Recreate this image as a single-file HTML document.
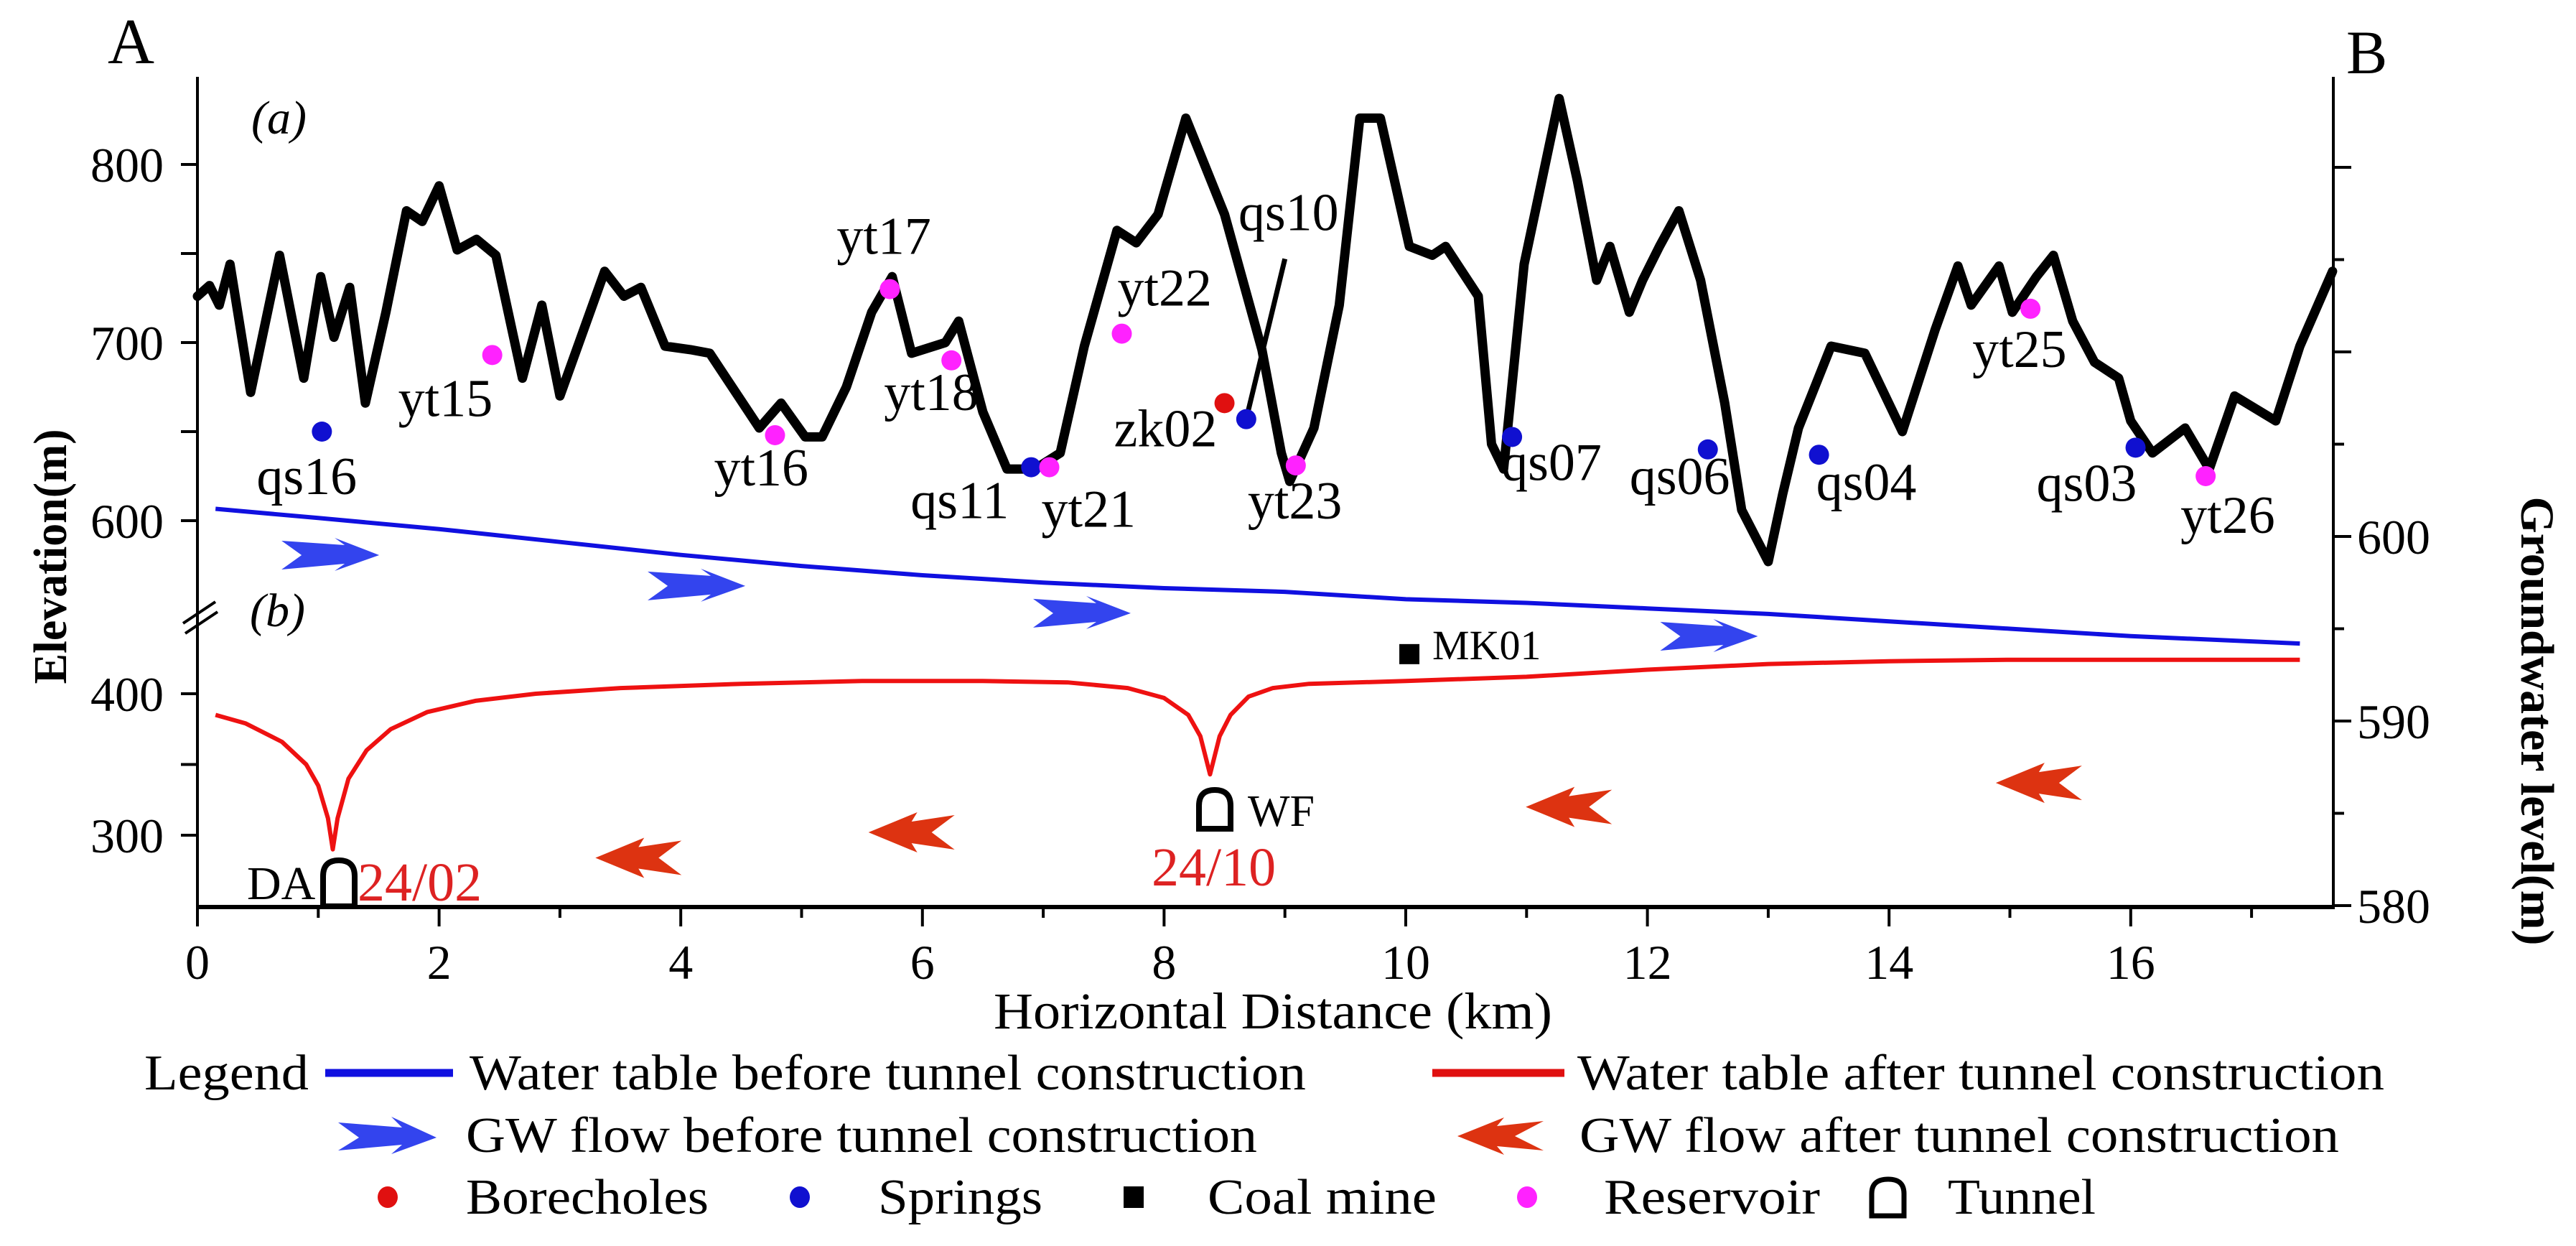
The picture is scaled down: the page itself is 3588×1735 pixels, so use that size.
<!DOCTYPE html>
<html><head><meta charset="utf-8">
<style>
html,body{margin:0;padding:0;background:#fff;}
svg{display:block;font-family:"Liberation Serif",serif;}
</style></head>
<body>
<svg id="chart" width="3588" height="1735" viewBox="0 0 3588 1735" xmlns="http://www.w3.org/2000/svg">
<rect x="0" y="0" width="3588" height="1735" fill="#fff"/>
<g id="axes"></g><g id="series"></g><g id="annot"></g>
<g id="legend">
  <text x="201" y="1517" font-size="70" textLength="229" lengthAdjust="spacingAndGlyphs">Legend</text>
  <line x1="453" y1="1494" x2="631" y2="1494" stroke="#1010e0" stroke-width="11"/>
  <text x="654" y="1517" font-size="70" textLength="1165" lengthAdjust="spacingAndGlyphs">Water table before tunnel construction</text>
  <line x1="1995" y1="1494" x2="2179" y2="1494" stroke="#e01010" stroke-width="11"/>
  <text x="2197" y="1517" font-size="70" textLength="1124" lengthAdjust="spacingAndGlyphs">Water table after tunnel construction</text>
  <path d="M471,1563 L560,1570 L545,1555 L608,1584 L545,1607 L560,1594 L471,1602 L500,1584 Z" fill="#3344ee"/>
  <text x="649" y="1604" font-size="70" textLength="1102" lengthAdjust="spacingAndGlyphs">GW flow before tunnel construction</text>
  <path d="M2150,1561 L2110,1582 L2150,1602 L2085,1596 L2095,1608 L2030,1582 L2095,1556 L2085,1568 Z" fill="#dd3311"/>
  <text x="2200" y="1604" font-size="70" textLength="1058" lengthAdjust="spacingAndGlyphs">GW flow after tunnel construction</text>
  <ellipse cx="540" cy="1667" rx="14" ry="15" fill="#e01010"/>
  <text x="649" y="1690" font-size="70" textLength="338" lengthAdjust="spacingAndGlyphs">Borecholes</text>
  <ellipse cx="1114" cy="1667" rx="14" ry="15" fill="#1010d0"/>
  <text x="1223" y="1690" font-size="70" textLength="229" lengthAdjust="spacingAndGlyphs">Springs</text>
  <rect x="1565" y="1652" width="28" height="30" fill="#000"/>
  <text x="1682" y="1690" font-size="70" textLength="319" lengthAdjust="spacingAndGlyphs">Coal mine</text>
  <ellipse cx="2127" cy="1667" rx="14" ry="15" fill="#ff22ff"/>
  <text x="2234" y="1690" font-size="70" textLength="301" lengthAdjust="spacingAndGlyphs">Reservoir</text>
  <path d="M2607,1693 L2607,1662 Q2607,1642 2630,1642 Q2652,1642 2652,1662 L2652,1693 Z" fill="none" stroke="#000" stroke-width="7"/>
  <text x="2713" y="1690" font-size="70" textLength="206" lengthAdjust="spacingAndGlyphs">Tunnel</text>
</g>
</svg>
<script>
// ---- data ----
const terrainKm = [0,0.1,0.18,0.27,0.44,0.68,0.88,1.02,1.13,1.26,1.39,1.56,1.73,1.86,2.0,2.15,2.31,2.47,2.69,2.85,3.0,3.37,3.53,3.67,3.87,4.08,4.24,4.65,4.83,5.03,5.17,5.37,5.58,5.75,5.91,6.19,6.3,6.5,6.7,6.93,7.14,7.34,7.61,7.77,7.95,8.18,8.5,8.81,8.97,9.04,9.24,9.45,9.62,9.79,10.03,10.22,10.33,10.6,10.71,10.81,10.98,11.27,11.42,11.58,11.69,11.85,11.96,12.1,12.26,12.44,12.64,12.78,13.0,13.12,13.25,13.52,13.8,14.11,14.38,14.57,14.68,14.91,15.02,15.22,15.36,15.52,15.7,15.9,16.0,16.18,16.45,16.65,16.86,17.2,17.4,17.67];
const terrainElev = [726,732,721,744,672,749,680,737,703,731,666,717,774,768,788,752,758,749,680,721,670,740,726,731,698,696,694,652,666,647,647,675,717,737,694,700,712,661,629,629,638,698,763,756,772,826,772,696,638,622,652,721,826,826,754,749,754,726,643,629,744,837,791,735,754,717,735,754,774,735,666,606,577,615,652,698,694,650,707,743,721,743,717,737,749,712,689,680,656,638,652,629,670,656,698,740];
const qs10LineKm = [8.68,9.0];
const qs10LineElev = [657,747];
const beforeKm = [0.15,1,2,3,4,5,6,7,8,9,10,11,12,13,14,15,16,17.4];
const beforeGw = [601.5,601.0,600.4,599.7,599.0,598.4,597.9,597.5,597.2,597.0,596.6,596.4,596.1,595.8,595.4,595.0,594.6,594.2];
const afterKm = [0.15,0.4,0.7,0.9,1.0,1.08,1.12,1.16,1.25,1.4,1.6,1.9,2.3,2.8,3.5,4.5,5.5,6.5,7.2,7.7,8.0,8.2,8.3,8.38,8.46,8.55,8.7,8.9,9.2,10,11,12,13,14,15,16,17.4];
const afterElev = [385,379,366,350,335,312,290,312,340,360,375,387,395,400,404,407,409,409,408,404,397,385,370,343,370,385,398,404,407,409,412,417,421,423,424,424,424];
const siteNames = ["qs16","yt15","yt16","yt17","yt18","qs11","yt21","yt22","zk02","qs10","yt23","qs07","qs06","qs04","yt25","qs03","yt26"];
const siteKm =   [1.03,2.44,4.78,5.73,6.24,6.90,7.05,7.65,8.50,8.68,9.09,10.88,12.50,13.42,15.17,16.04,16.62];
const siteElev = [650,693,648,730,690,630,630,705,666,657,631,647,640,637,719,641,625];
const siteType = ["spring","reservoir","reservoir","reservoir","reservoir","spring","reservoir","reservoir","borehole","spring","reservoir","spring","spring","spring","reservoir","spring","reservoir"];
const labelDx = [-91,-131,-85,-74,-94,-168,-11,-6,-154,-11,-67,-15,-109,-4,-81,-138,-35];
const labelDy = [87,85,70,-49,69,71,83,-39,60,-263,74,60,62,63,81,74,79];
const blueArrowKm = [1.10,4.13,7.32,12.51];
const blueArrowGw = [598.99,597.32,595.84,594.59];
const redArrowKm = [3.65,5.91,11.35,15.24];
const redArrowElev = [284,302,320,337];
const xTicks = [0,2,4,6,8,10,12,14,16];
const xMinor = [1,3,5,7,9,11,13,15,17];
const upperTicks = [600,700,800];
const upperMinor = [650,750];
const lowerTicks = [300,400];
const lowerMinor = [350];
const rightTicks = [580,590,600];
const rightUnlabeled = [610,620];
const rightMinor = [585,595,605,615];

// ---- scales ----
const X = km => 275 + km*168.3;
const YU = e => 725 - (e-600)*2.48;
const YL = e => 966 - (e-400)*1.97;
const YR = g => 747 - (g-600)*25.7;
const NS = "http://www.w3.org/2000/svg";
function mk(tag, attrs, parent){const el=document.createElementNS(NS,tag);for(const k in attrs)el.setAttribute(k,attrs[k]);parent.appendChild(el);return el;}
const axes=document.getElementById('axes'), series=document.getElementById('series'), annot=document.getElementById('annot');

let el;
el=mk('line',{x1:275,y1:107,x2:275,y2:1263,stroke:'#000','stroke-width':4},axes);


el=mk('line',{x1:3250,y1:107,x2:3250,y2:1263,stroke:'#000','stroke-width':4},axes);


el=mk('line',{x1:273,y1:1263,x2:3252,y2:1263,stroke:'#000','stroke-width':6},axes);


el=mk('path',{d:'M255,868 L300,838 M258,882 L303,852',stroke:'#000','stroke-width':4,fill:'none'},axes);



xTicks.forEach(v=>{
  el=mk('line',{x1:X(v),y1:1263,x2:X(v),y2:1290,stroke:'#000','stroke-width':4},axes);
  
  
  el=mk('text',{x:X(v),y:1363,'font-size':68,'text-anchor':'middle'},axes);
  el.textContent=v;
  
  
});
xMinor.forEach(v=>{
  el=mk('line',{x1:X(v),y1:1263,x2:X(v),y2:1278,stroke:'#000','stroke-width':4},axes);
  
  
});
function leftTick(y,label){
  el=mk('line',{x1:252,y1:y,x2:275,y2:y,stroke:'#000','stroke-width':4},axes);
  
  
  if(label!==null){
    el=mk('text',{x:228,y:y+24,'font-size':68,'text-anchor':'end'},axes);
    el.textContent=label;
    
    
  }
}
upperTicks.forEach(v=>leftTick(YU(v),v));
upperMinor.forEach(v=>leftTick(YU(v),null));
lowerTicks.forEach(v=>leftTick(YL(v),v));
lowerMinor.forEach(v=>leftTick(YL(v),null));
function rightTick(y,label,len){
  el=mk('line',{x1:3250,y1:y,x2:3250+len,y2:y,stroke:'#000','stroke-width':4},axes);
  
  
  if(label!==null){
    el=mk('text',{x:3283,y:y+24,'font-size':68},axes);
    el.textContent=label;
    
    
  }
}
rightTicks.forEach(v=>rightTick(YR(v),v,25));
rightUnlabeled.forEach(v=>rightTick(YR(v),null,25));
rightMinor.forEach(v=>rightTick(YR(v),null,15));

el=mk('text',{x:1773,y:1432,'font-size':72,'text-anchor':'middle',textLength:778,lengthAdjust:'spacingAndGlyphs'},axes);
el.textContent='Horizontal Distance (km)';


el=mk('text',{x:0,y:0,'font-size':66,'font-weight':'bold','text-anchor':'middle',textLength:355,lengthAdjust:'spacingAndGlyphs',transform:'translate(92,775) rotate(-90)'},axes);
el.textContent='Elevation(m)';


el=mk('text',{x:0,y:0,'font-size':66,'font-weight':'bold','text-anchor':'middle',textLength:625,lengthAdjust:'spacingAndGlyphs',transform:'translate(3512,1004) rotate(90)'},axes);
el.textContent='Groundwater level(m)';


el=mk('text',{x:150,y:88,'font-size':90},axes);
el.textContent='A';


el=mk('text',{x:3268,y:102,'font-size':86},axes);
el.textContent='B';


el=mk('text',{x:350,y:186,'font-size':66,'font-style':'italic'},axes);
el.textContent='(a)';


el=mk('text',{x:348,y:872,'font-size':66,'font-style':'italic'},axes);
el.textContent='(b)';



function poly(xs,ys,fx,fy){return xs.map((v,i)=>(i?'L':'M')+fx(v).toFixed(1)+','+fy(ys[i]).toFixed(1)).join(' ');}
el=mk('path',{d:poly(terrainKm,terrainElev,X,YU),fill:'none',stroke:'#000','stroke-width':13,'stroke-linejoin':'round','stroke-linecap':'round'},series);


el=mk('path',{d:poly(qs10LineKm,qs10LineElev,X,YU),fill:'none',stroke:'#000','stroke-width':7},series);


el=mk('path',{d:poly(beforeKm,beforeGw,X,YR),fill:'none',stroke:'#1010e0','stroke-width':6},series);


el=mk('path',{d:poly(afterKm,afterElev,X,YL),fill:'none',stroke:'#ee1111','stroke-width':6,'stroke-linejoin':'round'},series);



blueArrowKm.forEach((k,i)=>{
  const cx=X(k), cy=YR(blueArrowGw[i]);
  el=mk('path',{d:'M-68,-20 L20,-14 L6,-24 L68,0 L6,22 L20,12 L-68,20 L-40,0 Z',transform:`translate(${cx},${cy})`,fill:'#3344ee'},annot);
  
  
});
redArrowKm.forEach((k,i)=>{
  const cx=X(k), cy=YL(redArrowElev[i]);
  el=mk('path',{d:'M60,-24 L28,0 L60,24 L0,15 L8,28 L-60,0 L8,-28 L0,-15 Z',transform:`translate(${cx},${cy})`,fill:'#dd3311'},annot);
  
  
});

const siteColor={spring:'#1010d0',reservoir:'#ff22ff',borehole:'#e01010'};
siteNames.forEach((n,i)=>{
  const cx=X(siteKm[i]), cy=YU(siteElev[i]);
  el=mk('circle',{cx:cx,cy:cy,r:14,fill:siteColor[siteType[i]]},annot);
  
  
  el=mk('text',{x:cx+labelDx[i],y:cy+labelDy[i],'font-size':74},annot);
  el.textContent=n;
  
  
});

el=mk('rect',{x:X(10.03)-14,y:YL(428)-14,width:28,height:28,fill:'#000'},annot);


el=mk('text',{x:1995,y:918,'font-size':58},annot);
el.textContent='MK01';


function tunnel(cx,top,bottom,name){
  const w=22;
  el=mk('path',{d:`M${cx-w},${bottom} L${cx-w},${top+22} Q${cx-w},${top} ${cx},${top} Q${cx+w},${top} ${cx+w},${top+22} L${cx+w},${bottom} Z`,fill:'none',stroke:'#000','stroke-width':8},annot);
  
  
}
tunnel(472,1198,1262,'tunnel-da');
tunnel(1692,1100,1154,'tunnel-wf');
el=mk('text',{x:344,y:1252,'font-size':66},annot);
el.textContent='DA';


el=mk('text',{x:498,y:1254,'font-size':76,fill:'#dd2222'},annot);
el.textContent='24/02';


el=mk('text',{x:1738,y:1150,'font-size':62},annot);
el.textContent='WF';


el=mk('text',{x:1604,y:1233,'font-size':76,fill:'#dd2222'},annot);
el.textContent='24/10';


</script>
</body></html>
